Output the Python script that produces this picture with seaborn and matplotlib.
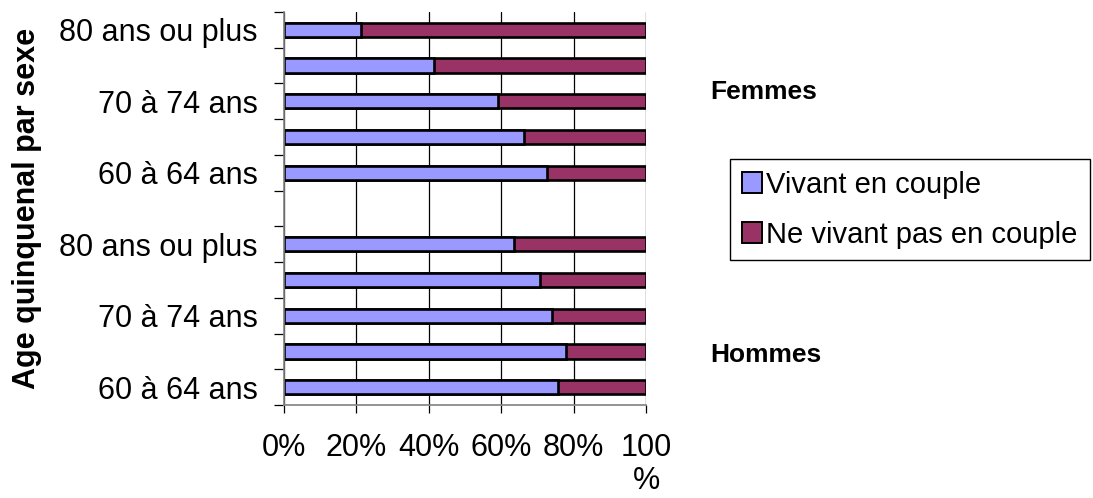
import numpy as np
import pandas as pd
import matplotlib
matplotlib.use("Agg")
import matplotlib.pyplot as plt
import seaborn as sns
from matplotlib.patches import Patch

# ---- data ----
row_keys = ["F80", "F75", "F70", "F65", "F60", "GAP", "H80", "H75", "H70", "H65", "H60"]
row_labels = ["80 ans ou plus", "", "70 à 74 ans", "", "60 à 64 ans", "",
              "80 ans ou plus", "", "70 à 74 ans", "", "60 à 64 ans"]
data_keys = ["F80", "F75", "F70", "F65", "F60", "H80", "H75", "H70", "H65", "H60"]
vivant = [21.3, 41.5, 59.0, 66.2, 72.6, 63.6, 70.6, 74.0, 77.9, 75.8]
ne_vivant = [100 - v for v in vivant]
series_names = ["Vivant en couple", "Ne vivant pas en couple"]
x_ticks = [0, 20, 40, 60, 80, 100]
x_tick_labels = ["0%", "20%", "40%", "60%", "80%", "100\n%"]
colors = ["#9999FF", "#993366"]

df = pd.DataFrame({"row": data_keys, "vivant": vivant, "ne_vivant": ne_vivant})
df["total"] = df["vivant"] + df["ne_vivant"]

sns.set_style("white")
plt.rcParams["font.family"] = ["Liberation Sans", "DejaVu Sans"]
plt.rcParams["text.color"] = "black"
plt.rcParams["axes.labelcolor"] = "black"
plt.rcParams["xtick.labelcolor"] = "black"
plt.rcParams["ytick.labelcolor"] = "black"

fig = plt.figure(figsize=(10.93, 4.98), dpi=100)
ax = fig.add_axes([284 / 1093, 1 - 405 / 498, (646 - 284) / 1093, (405 - 12) / 498])

sns.barplot(data=df, y="row", x="total", order=row_keys, orient="h", color=colors[1],
            width=0.4, edgecolor="black", linewidth=1.9, saturation=1, ax=ax, errorbar=None)
sns.barplot(data=df, y="row", x="vivant", order=row_keys, orient="h", color=colors[0],
            width=0.4, edgecolor="black", linewidth=1.9, saturation=1, ax=ax, errorbar=None)

ax.set_xlim(0, 100)
ax.set_ylim(len(row_keys) - 0.5, -0.5)
ax.set_axisbelow(True)

ax.set_xticks(x_ticks)
ax.set_xticklabels(x_tick_labels, fontsize=22, linespacing=1.15)
ax.tick_params(axis="x", direction="out", length=6, width=0.9, color="black", pad=14,
               bottom=True)
ax.xaxis.grid(True, color="black", linewidth=0.9)
ax.yaxis.grid(False)

ax.set_yticks(range(len(row_keys)))
ax.set_yticklabels(row_labels, fontsize=22)
ax.set_yticks(np.arange(-0.5, len(row_keys), 1.0), minor=True)
ax.tick_params(axis="y", which="major", length=0, pad=19, left=True)
ax.tick_params(axis="y", which="minor", length=7, width=0.9, color="black", left=True)

ax.set_xlabel("")
ax.set_ylabel("Age quinquenal par sexe", fontsize=22, fontweight="bold", labelpad=12)

for s in ["top", "right"]:
    ax.spines[s].set_visible(False)
for s in ["left", "bottom"]:
    ax.spines[s].set_color("#808080")
    ax.spines[s].set_linewidth(1.2)

fig.text(710 / 1093, 1 - 92 / 498, "Femmes", fontsize=19, fontweight="bold", va="center", ha="left")
fig.text(710 / 1093, 1 - 355 / 498, "Hommes", fontsize=19, fontweight="bold", va="center", ha="left")

handles = [Patch(facecolor=colors[0], edgecolor="black", linewidth=1.4),
           Patch(facecolor=colors[1], edgecolor="black", linewidth=1.4)]
leg = fig.legend(handles, series_names, loc="upper left", bbox_to_anchor=(730 / 1093, 1 - 159 / 498),
                 bbox_transform=fig.transFigure, borderaxespad=0, fontsize=21, frameon=True,
                 fancybox=False, edgecolor="black", handlelength=0.7, handleheight=0.7,
                 handletextpad=0.15, labelspacing=0.75, borderpad=0.4, framealpha=1)
leg.get_frame().set_linewidth(1.0)

fig.savefig("out.png", dpi=100)
